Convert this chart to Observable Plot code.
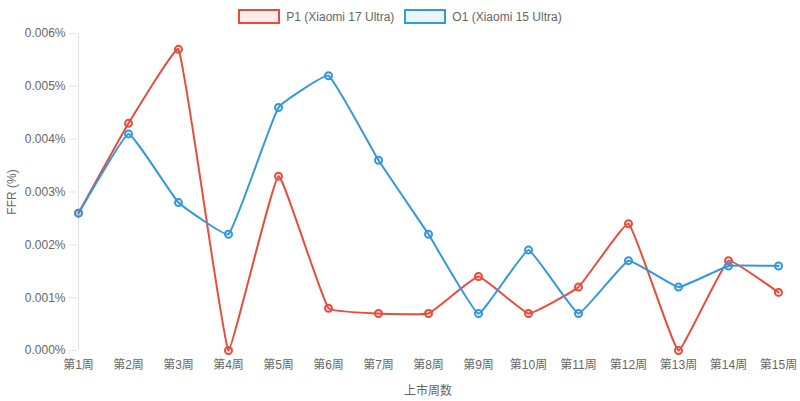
<!DOCTYPE html>
<html>
<head>
<meta charset="utf-8">
<script src="https://cdn.jsdelivr.net/npm/d3@7"></script>
<script src="https://cdn.jsdelivr.net/npm/@observablehq/plot@0.6"></script>
<style>
  html, body { margin: 0; padding: 0; background: #fff; }
  #wrap { position: relative; width: 800px; height: 401px; font-family: "Liberation Sans", Arial, "Noto Sans CJK SC", sans-serif; }
  #legend { position: absolute; top: 9px; left: 0; width: 800px; display: flex; justify-content: center; gap: 10px; font-size: 12px; color: #666; }
  .item { display: flex; align-items: center; gap: 6px; }
  .box { width: 38px; height: 11px; border-width: 2px; border-style: solid; }
</style>
</head>
<body>
<div id="wrap">
  <div id="legend"></div>
  <div id="chart"></div>
</div>
<script>
const weeks = ["第1周","第2周","第3周","第4周","第5周","第6周","第7周","第8周","第9周","第10周","第11周","第12周","第13周","第14周","第15周"];
const seriesNames = ["P1 (Xiaomi 17 Ultra)", "O1 (Xiaomi 15 Ultra)"];
const p1Values = [0.0026, 0.0043, 0.0057, 0.0000, 0.0033, 0.0008, 0.0007, 0.0007, 0.0014, 0.0007, 0.0012, 0.0024, 0.0000, 0.0017, 0.0011];
const o1Values = [0.0026, 0.0041, 0.0028, 0.0022, 0.0046, 0.0052, 0.0036, 0.0022, 0.0007, 0.0019, 0.0007, 0.0017, 0.0012, 0.0016, 0.0016];
const yTicks = [0, 0.001, 0.002, 0.003, 0.004, 0.005, 0.006];
const colors = ["#e74c3c", "#3498db"];
const fills = ["rgba(231,76,60,0.1)", "rgba(52,152,219,0.1)"];

const W = 800, H = 401, ML = 77, MR = 22, MT = 33, MB = 51;

const data = [];
weeks.forEach((w, i) => {
  data.push({week: w, value: p1Values[i], series: seriesNames[0]});
  data.push({week: w, value: o1Values[i], series: seriesNames[1]});
});

// Tension spline (Chart.js-like) as a d3 curve factory
function splineCurve(tension, area) {
  return function(context) {
    let pts = [];
    const clamp = (v, a, b) => Math.max(a, Math.min(b, v));
    return {
      areaStart() {}, areaEnd() {},
      lineStart() { pts = []; },
      point(x, y) { pts.push({x: +x, y: +y}); },
      lineEnd() {
        const n = pts.length;
        if (!n) return;
        const ctrl = pts.map((cur, i) => {
          const prev = i > 0 ? pts[i - 1] : cur;
          const next = i < n - 1 ? pts[i + 1] : cur;
          const d01 = Math.hypot(cur.x - prev.x, cur.y - prev.y);
          const d12 = Math.hypot(next.x - cur.x, next.y - cur.y);
          let s01 = d01 / (d01 + d12), s12 = d12 / (d01 + d12);
          if (!isFinite(s01)) s01 = 0;
          if (!isFinite(s12)) s12 = 0;
          const fa = tension * s01, fb = tension * s12;
          const c = {
            px: cur.x - fa * (next.x - prev.x), py: cur.y - fa * (next.y - prev.y),
            nx: cur.x + fb * (next.x - prev.x), ny: cur.y + fb * (next.y - prev.y)
          };
          c.px = clamp(c.px, area.left, area.right); c.nx = clamp(c.nx, area.left, area.right);
          c.py = clamp(c.py, area.top, area.bottom); c.ny = clamp(c.ny, area.top, area.bottom);
          return c;
        });
        context.moveTo(pts[0].x, pts[0].y);
        for (let i = 1; i < n; i++) {
          context.bezierCurveTo(ctrl[i - 1].nx, ctrl[i - 1].ny, ctrl[i].px, ctrl[i].py, pts[i].x, pts[i].y);
        }
      }
    };
  };
}

const legend = document.getElementById("legend");
seriesNames.forEach((name, i) => {
  const item = document.createElement("div");
  item.className = "item";
  const box = document.createElement("span");
  box.className = "box";
  box.style.borderColor = colors[i];
  box.style.background = fills[i];
  const label = document.createElement("span");
  label.textContent = name;
  item.appendChild(box);
  item.appendChild(label);
  legend.appendChild(item);
});

const chart = Plot.plot({
  width: W,
  height: H,
  marginLeft: ML,
  marginRight: MR,
  marginTop: MT,
  marginBottom: MB,
  style: {fontFamily: '"Liberation Sans", Arial, "Noto Sans CJK SC", sans-serif', fontSize: "12px", color: "#666", background: "#fff"},
  x: {type: "point", domain: weeks, padding: 0},
  y: {domain: [0, 0.006]},
  color: {domain: seriesNames, range: colors},
  marks: [
    Plot.ruleY(yTicks, {stroke: "#e5e5e5", strokeWidth: 1, x1: weeks[0], x2: weeks[weeks.length - 1]}),
    Plot.ruleY([0], {stroke: "#d5d5d5", strokeWidth: 1, x1: weeks[0], x2: weeks[weeks.length - 1]}),
    Plot.ruleX([weeks[0]], {stroke: "#e0e0e0", strokeWidth: 1, y1: 0, y2: 0.006}),
    Plot.axisY({ticks: yTicks, tickFormat: d => d.toFixed(3) + "%", tickSize: 8, tickPadding: 4, stroke: "#e5e5e5", color: "#666",
      label: "FFR (%)", labelAnchor: "center", labelArrow: "none", labelOffset: 70}),
    Plot.axisX({tickSize: 0, tickPadding: 10, color: "#666", label: "上市周数", labelAnchor: "center", labelArrow: "none", labelOffset: 44}),
    Plot.line(data, {x: "week", y: "value", z: "series", stroke: "series", strokeWidth: 2,
      curve: splineCurve(0.1, {left: ML, right: W - MR, top: MT, bottom: H - MB})}),
    Plot.dot(data, {x: "week", y: "value", stroke: "series", fill: d => fills[seriesNames.indexOf(d.series)], r: 3.5, strokeWidth: 2})
  ]
});
document.getElementById("chart").appendChild(chart);
</script>
</body>
</html>
